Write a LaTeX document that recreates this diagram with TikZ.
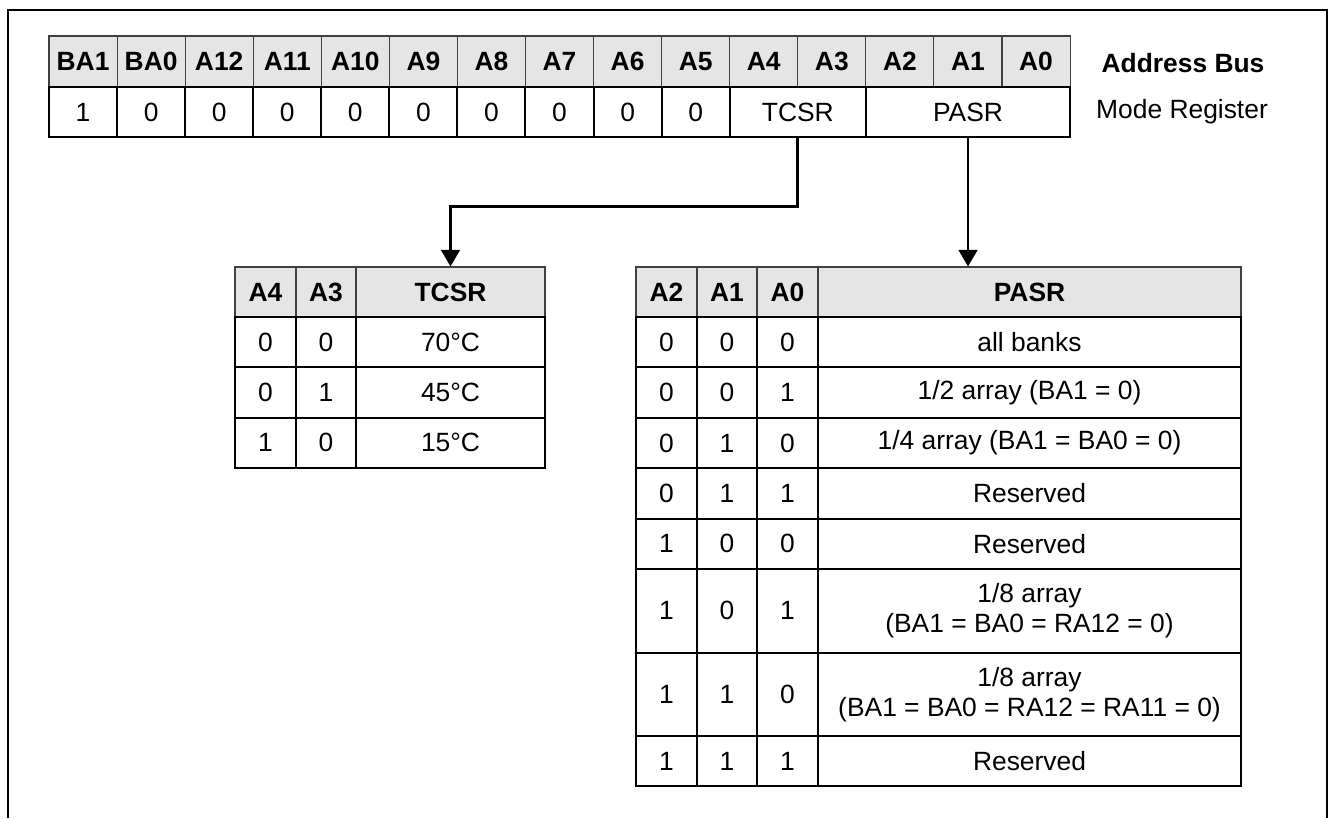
\documentclass[tikz,border=0pt]{standalone}
\usepackage{fontspec}
\setmainfont{Liberation Sans}
\usetikzlibrary{arrows.meta, calc}
\newcommand{\regfont}{\fontsize{19.8}{22.5}\selectfont}
\tikzset{
  hcel/.style={rectangle, draw=black!75, line width=0.8pt, fill=black!10,
               inner sep=0pt, font=\regfont\bfseries},
  vcel/.style={rectangle, draw=black, line width=1.5pt, inner sep=0pt,
               align=center},
  cw/.style={minimum width=#1*0.75pt},
  ch/.style={minimum height=#1*0.75pt},
  arc/.style={-{Triangle[width=14pt, length=12.5pt]}, line width=2.2pt}
}
\begin{document}
\begin{tikzpicture}[x=0.75pt, y=-0.75pt, font=\regfont]
  \useasboundingbox (0,0) rectangle (1332,818);
  % outer frame, open at the bottom
  \draw[line width=2.2pt] (8,818) -- (8,10) -- (1327,10) -- (1327,818);

  % address bus / mode register
  \foreach \lab [count=\i from 0] in {BA1,BA0,A12,A11,A10,A9,A8,A7,A6,A5,A4,A3,A2,A1,A0} {
    \node[hcel, cw=68.07, ch=51] (ab\i) at ({49+68.07*(\i+0.5)},61.5) {\lab};
  }
  \foreach \v [count=\i from 0] in {1,0,0,0,0,0,0,0,0,0} {
    \node[vcel, cw=68.07, ch=50] (mr\i) at ({49+68.07*(\i+0.5)},112) {\v};
  }
  \node[vcel, cw=136.14, ch=50] (vtcsr) at (797.8,112) {TCSR};
  \node[vcel, cw=204.2, ch=50] (vpasr) at (968,112) {PASR};
  \node[font=\regfont\bfseries] (bus) at (1183,63) {Address Bus};
  \node (mreg) at (1182,112) {Mode Register};

  % TCSR table
  \node[hcel, cw=61, ch=50] (ta4) at (265.5,292) {A4};
  \node[hcel, cw=60, ch=50] (ta3) at (326,292) {A3};
  \node[hcel, cw=189, ch=50] (tts) at (450.5,292) {TCSR};
  \foreach \a/\b/\t [count=\r from 0] in {0/0/70°C, 0/1/45°C, 1/0/15°C} {
    \node[vcel, cw=61, ch=50.33] (t\r a) at (265.5,{342.2+50.33*\r}) {\a};
    \node[vcel, cw=60, ch=50.33] (t\r b) at (326,{342.2+50.33*\r}) {\b};
    \node[vcel, cw=189, ch=50.33] (t\r c) at (450.5,{342.2+50.33*\r}) {\t};
  }

  % PASR table
  \node[hcel, cw=61, ch=50] (pa2) at (666.5,292) {A2};
  \node[hcel, cw=60, ch=50] (pa1) at (727,292) {A1};
  \node[hcel, cw=61, ch=50] (pa0) at (787.5,292) {A0};
  \node[hcel, cw=423, ch=50] (pps) at (1029.5,292) {PASR};
  \foreach \yc/\hh/\a/\b/\c/\t [count=\r from 0] in {
      342.2/50.4/0/0/0/{all banks},
      392.6/50.4/0/0/1/{1/2 array (BA1 = 0)},
      443.0/50.4/0/1/0/{1/4 array (BA1 = BA0 = 0)},
      493.4/50.4/0/1/1/{Reserved},
      543.8/50.4/1/0/0/{Reserved},
      610.75/83.5/1/0/1/{1/8 array\\(BA1 = BA0 = RA12 = 0)},
      694.25/83.5/1/1/0/{1/8 array\\(BA1 = BA0 = RA12 = RA11 = 0)},
      761/50/1/1/1/{Reserved}} {
    \node[vcel, cw=61, ch=\hh] (p\r a) at (666.5,\yc) {\a};
    \node[vcel, cw=60, ch=\hh] (p\r b) at (727,\yc) {\b};
    \node[vcel, cw=61, ch=\hh] (p\r c) at (787.5,\yc) {\c};
    \node[vcel, cw=423, ch=\hh] (p\r d) at (1029.5,\yc) {\t};
  }

  % field arrows
  \draw[arc] (vtcsr.south) |- ($(tts.north)+(0,-60)$) -- (tts.north);
  \draw[arc] (vpasr.south) -- (vpasr.south |- pps.north);
\end{tikzpicture}
\end{document}
